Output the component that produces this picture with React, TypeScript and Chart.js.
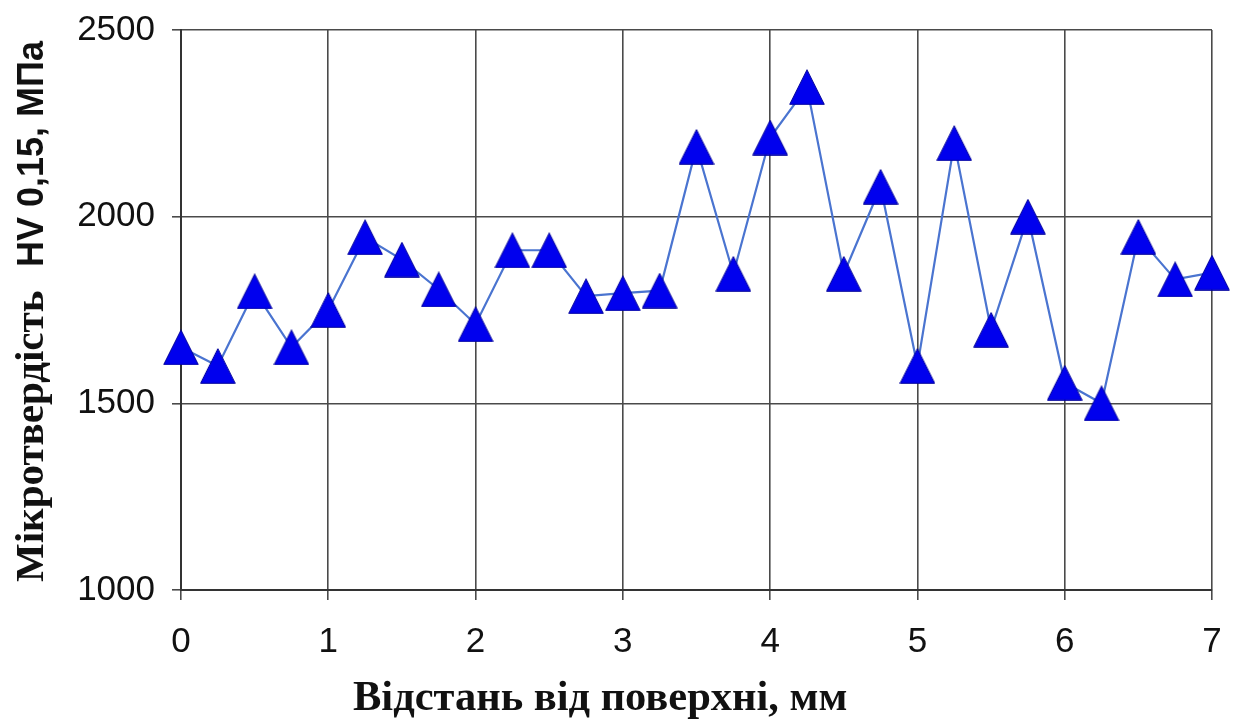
import React, { useEffect, useRef } from "react";
import { Chart, registerables } from "chart.js";

Chart.register(...registerables);

const distances: number[] = [
  0, 0.25, 0.5, 0.75, 1, 1.25, 1.5, 1.75, 2, 2.25, 2.5, 2.75, 3, 3.25, 3.5,
  3.75, 4, 4.25, 4.5, 4.75, 5, 5.25, 5.5, 5.75, 6, 6.25, 6.5, 6.75, 7,
];
const hardness: number[] = [
  1650, 1600, 1800, 1650, 1750, 1945, 1885, 1805, 1712, 1910, 1910, 1787,
  1795, 1802, 2187, 1847, 2212, 2347, 1847, 2080, 1600, 2197, 1697, 2000,
  1555, 1500, 1946, 1832, 1850,
];
const yTicks: number[] = [1000, 1500, 2000, 2500];
const xTicks: number[] = [0, 1, 2, 3, 4, 5, 6, 7];

const X_TITLE = "Відстань від поверхні, мм";
const Y_TITLE_SERIF = "Мікротвердість";
const Y_TITLE_SANS = "HV 0,15, МПа";

const SANS = '"Liberation Sans", Arial, sans-serif';
const SERIF = '"Liberation Serif", "Times New Roman", serif';

function makeTriangle(): HTMLCanvasElement {
  const c = document.createElement("canvas");
  c.width = 36;
  c.height = 36;
  const g = c.getContext("2d")!;
  g.beginPath();
  g.moveTo(0.7, 35.3);
  g.lineTo(35.3, 35.3);
  g.lineTo(18, 0.7);
  g.closePath();
  g.fillStyle = "#0000ee";
  g.fill();
  g.lineWidth = 1;
  g.strokeStyle = "#00009a";
  g.stroke();
  return c;
}

const axisTitles = {
  id: "axisTitles",
  afterDraw(chart: any) {
    const ctx = chart.ctx as CanvasRenderingContext2D;
    ctx.save();
    ctx.fillStyle = "#111";
    ctx.textAlign = "left";
    ctx.textBaseline = "alphabetic";
    ctx.font = `bold 42.5px ${SERIF}`;
    ctx.fillText(X_TITLE, 353, 710);
    ctx.translate(43, 582);
    ctx.rotate(-Math.PI / 2);
    ctx.font = `bold 41px ${SERIF}`;
    ctx.fillText(Y_TITLE_SERIF, 0, 0);
    ctx.font = `bold 36px ${SANS}`;
    ctx.fillText(Y_TITLE_SANS, 582 - 267, 0);
    ctx.restore();
  },
};

export default function App() {
  const ref = useRef<HTMLCanvasElement | null>(null);

  useEffect(() => {
    if (!ref.current) return;
    const tri = makeTriangle();
    const chart = new Chart(ref.current, {
      type: "line",
      data: {
        datasets: [
          {
            data: distances.map((d, i) => ({ x: d, y: hardness[i] })),
            borderColor: "#4a74d0",
            borderWidth: 2.2,
            tension: 0,
            pointStyle: tri as any,
            pointRadius: 18,
            pointHoverRadius: 18,
            backgroundColor: "#0000ee",
            clip: false as any,
          },
        ],
      },
      options: {
        animation: false,
        responsive: true,
        maintainAspectRatio: false,
        events: [],
        layout: { padding: { top: 30, right: 28, left: 0, bottom: 0 } },
        plugins: {
          legend: { display: false },
          tooltip: { enabled: false },
          title: { display: false },
        },
        scales: {
          x: {
            type: "linear",
            min: 0,
            max: 7,
            afterFit: (s: any) => {
              s.height = 129;
              s.paddingLeft = 0;
              s.paddingRight = 0;
            },
            afterBuildTicks: (s: any) => {
              s.ticks = xTicks.map((v) => ({ value: v }));
            },
            ticks: {
              stepSize: 1,
              font: { family: SANS, size: 35 },
              color: "#111",
              padding: 21,
              maxRotation: 0,
              callback: (v: any) => String(v),
            },
            grid: {
              color: "#4a4a4a",
              lineWidth: 1.6,
              tickLength: 10,
            },
            border: { color: "#333", width: 2 },
          },
          y: {
            type: "linear",
            min: 1000,
            max: 2500,
            afterFit: (s: any) => {
              s.width = 181;
              s.paddingTop = 0;
              s.paddingBottom = 0;
            },
            afterBuildTicks: (s: any) => {
              s.ticks = yTicks.map((v) => ({ value: v }));
            },
            ticks: {
              stepSize: 500,
              font: { family: SANS, size: 35 },
              color: "#111",
              padding: 17,
              callback: (v: any) => String(v),
            },
            grid: {
              color: "#4a4a4a",
              lineWidth: 1.6,
              tickLength: 9,
            },
            border: { color: "#333", width: 2 },
          },
        },
      },
      plugins: [axisTitles],
    });
    return () => chart.destroy();
  }, []);

  return (
    <div
      style={{
        position: "fixed",
        left: 0,
        top: 0,
        width: 1240,
        height: 719,
        background: "#fff",
      }}
    >
      <canvas ref={ref} />
    </div>
  );
}
